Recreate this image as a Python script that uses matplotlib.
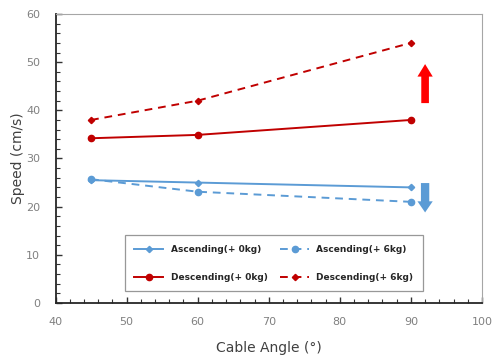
import matplotlib
matplotlib.use("Agg")
import matplotlib.pyplot as plt
from matplotlib.ticker import MultipleLocator

plt.rcParams["font.family"] = ["DejaVu Sans"]

angles = [45, 60, 90]
asc_0kg = [25.5, 25.0, 24.0]
asc_6kg = [25.7, 23.1, 21.0]
desc_0kg = [34.2, 34.9, 38.0]
desc_6kg = [38.0, 42.0, 54.0]

series_labels = ["Ascending(+ 0kg)", "Ascending(+ 6kg)", "Descending(+ 0kg)", "Descending(+ 6kg)"]

BLUE = "#5B9BD5"
RED = "#C00000"

fig = plt.figure(figsize=(4.93, 3.57), dpi=100)
ax = fig.add_axes([0.1126, 0.1513, 0.865, 0.8095])

h_a0, = ax.plot(angles, asc_0kg, color=BLUE, lw=1.4, marker="D", ms=3.2, label=series_labels[0])
h_a6, = ax.plot(angles, asc_6kg, color=BLUE, lw=1.4, ls=(0, (4, 3)), marker="o", ms=4.5, label=series_labels[1])
h_d0, = ax.plot(angles, desc_0kg, color=RED, lw=1.4, marker="o", ms=4.5, label=series_labels[2])
h_d6, = ax.plot(angles, desc_6kg, color=RED, lw=1.4, ls=(0, (4, 3)), marker="D", ms=3.2, label=series_labels[3])

# trend arrows
ax.annotate("", xy=(92.0, 49.6), xytext=(92.0, 41.5),
            arrowprops=dict(arrowstyle="simple,head_length=0.9,head_width=1.1,tail_width=0.55",
                            color="#FF0000", lw=0, shrinkA=0, shrinkB=0))
ax.annotate("", xy=(92.0, 18.8), xytext=(92.0, 24.9),
            arrowprops=dict(arrowstyle="simple,head_length=0.8,head_width=1.1,tail_width=0.6",
                            color=BLUE, lw=0, shrinkA=0, shrinkB=0))

ax.set_xlim(40, 100)
ax.set_ylim(0, 60)
ax.xaxis.set_major_locator(MultipleLocator(10))
ax.xaxis.set_minor_locator(MultipleLocator(2))
ax.yaxis.set_major_locator(MultipleLocator(10))
ax.yaxis.set_minor_locator(MultipleLocator(2))
ax.tick_params(which="both", direction="in", colors="#333333", labelcolor="#808080",
               labelsize=8, top=False, right=False)
ax.tick_params(which="major", length=4, width=1)
ax.tick_params(which="minor", length=3, width=0.8)
ax.tick_params(axis="x", pad=10)
ax.tick_params(axis="y", pad=11)

for side in ["left", "bottom"]:
    ax.spines[side].set_color("#262626")
    ax.spines[side].set_linewidth(1.3)
for side in ["top", "right"]:
    ax.spines[side].set_color("#a6a6a6")
    ax.spines[side].set_linewidth(0.8)

ax.set_xlabel("Cable Angle (°)", fontsize=10, color="#404040", labelpad=10)
ax.set_ylabel("Speed (cm/s)", fontsize=10, color="#404040", labelpad=1)

leg = ax.legend(handles=[h_a0, h_d0, h_a6, h_d6], ncol=2, loc="lower center",
                bbox_to_anchor=(0.512, 0.025), fontsize=6.5, frameon=True, fancybox=False,
                edgecolor="#7f7f7f", handlelength=3.2, columnspacing=1.4,
                labelspacing=2.1, borderpad=1.05)
leg.get_frame().set_linewidth(0.9)
for t in leg.get_texts():
    t.set_fontweight("bold")
    t.set_color("#262626")

fig.savefig("out.png", dpi=100)
